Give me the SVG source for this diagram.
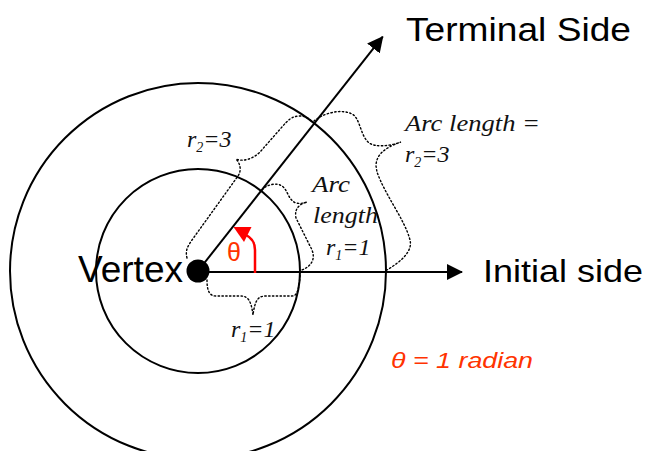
<svg xmlns="http://www.w3.org/2000/svg" width="649" height="451" viewBox="0 0 649 451">
<style>
.ln{fill:none;stroke:#000;stroke-width:2}
.dot{fill:none;stroke:#000;stroke-width:1.4;stroke-dasharray:1.4 2.4;stroke-linecap:round}
.big{font-family:"Liberation Sans",Arial,sans-serif;fill:#000}
.lab{font-family:"Liberation Serif","Times New Roman",serif;font-style:italic;font-size:24px;fill:#111}
.sub{font-size:14px}
.red{font-family:"Liberation Sans",Arial,sans-serif;fill:#FF3300}
</style>
<defs>
<marker id="arr" viewBox="0 0 16 16" refX="15" refY="8" markerWidth="16" markerHeight="16" markerUnits="userSpaceOnUse" orient="auto">
<path d="M0,0 L16,8 L0,16 z" fill="#000"/>
</marker>
</defs>
<rect width="649" height="451" fill="#fff"/>
<g id="outer-circle"><circle class="ln" cx="198" cy="271" r="188"/></g>
<g id="inner-circle"><circle class="ln" cx="198" cy="271" r="102"/></g>
<g id="connectors">
<line class="ln" x1="198" y1="271" x2="382.7" y2="36.7" marker-end="url(#arr)"/>
<line class="ln" x1="198" y1="272" x2="462" y2="272" marker-end="url(#arr)"/>
<path d="M255,273 L255,250 C255,242 252,238 246,235" fill="none" stroke="#FF0000" stroke-width="2.5"/>
<polygon points="233.5,227 251.5,227 244,242" fill="#FF0000"/>
</g>
<g id="braces">
<path class="dot" d="M187,258 C185,250 188,246 192,240 L238,176 C242,170 240,163 236,159 C243,162 253,159 260,152 L282,127 C288,120 292,116 300,116 C306,116 310,119 312,122"/>
<path class="dot" d="M314,121 C322,114 340,108 352,114 C360,118 360,134 368,142 C374,148 390,146 401,142 C390,146 376,152 376,166 L377,172 C385,195 405,220 410,240 C413,252 400,262 387,270"/>
<path class="dot" d="M262,190 C266,185 276,182 282,186 C288,190 288,200 296,203 C300,204 304,203 307,202 C300,204 294,208 296,218 L310,246 C316,256 314,265 302,270"/>
<path class="dot" d="M207,280 C207,290 209,296 216,296 L240,296 C248,296 251,300 253,315 C255,300 258,296 266,296 L292,296 C297,296 299,290 300,275"/>
</g>
<g id="vertex">
<circle cx="198" cy="271" r="11.5" fill="#000"/>
<text class="big" x="78" y="282" font-size="36" textLength="105" lengthAdjust="spacingAndGlyphs">Vertex</text>
</g>
<g id="terminal-label"><text class="big" x="406" y="41" font-size="33" textLength="225" lengthAdjust="spacingAndGlyphs">Terminal Side</text></g>
<g id="initial-label"><text class="big" x="483" y="282" font-size="32" textLength="160" lengthAdjust="spacingAndGlyphs">Initial side</text></g>
<g id="labels">
<text class="lab" x="187" y="147">r<tspan class="sub" dy="5">2</tspan><tspan dy="-5">=3</tspan></text>
<text class="lab" x="405" y="131" textLength="135" lengthAdjust="spacingAndGlyphs">Arc length =</text>
<text class="lab" x="405" y="162">r<tspan class="sub" dy="5">2</tspan><tspan dy="-5">=3</tspan></text>
<text class="lab" x="312" y="192" textLength="38" lengthAdjust="spacingAndGlyphs">Arc</text>
<text class="lab" x="313" y="223" textLength="65" lengthAdjust="spacingAndGlyphs">length</text>
<text class="lab" x="326" y="255">r<tspan class="sub" dy="5">1</tspan><tspan dy="-5">=1</tspan></text>
<text class="lab" x="231" y="337">r<tspan class="sub" dy="5">1</tspan><tspan dy="-5">=1</tspan></text>
</g>
<g id="theta"><text class="red" x="227" y="261" font-size="25">θ</text></g>
<g id="radian-note"><text class="red" x="391" y="368" font-size="22" font-style="italic" textLength="142" lengthAdjust="spacingAndGlyphs">θ = 1 radian</text></g>
</svg>
